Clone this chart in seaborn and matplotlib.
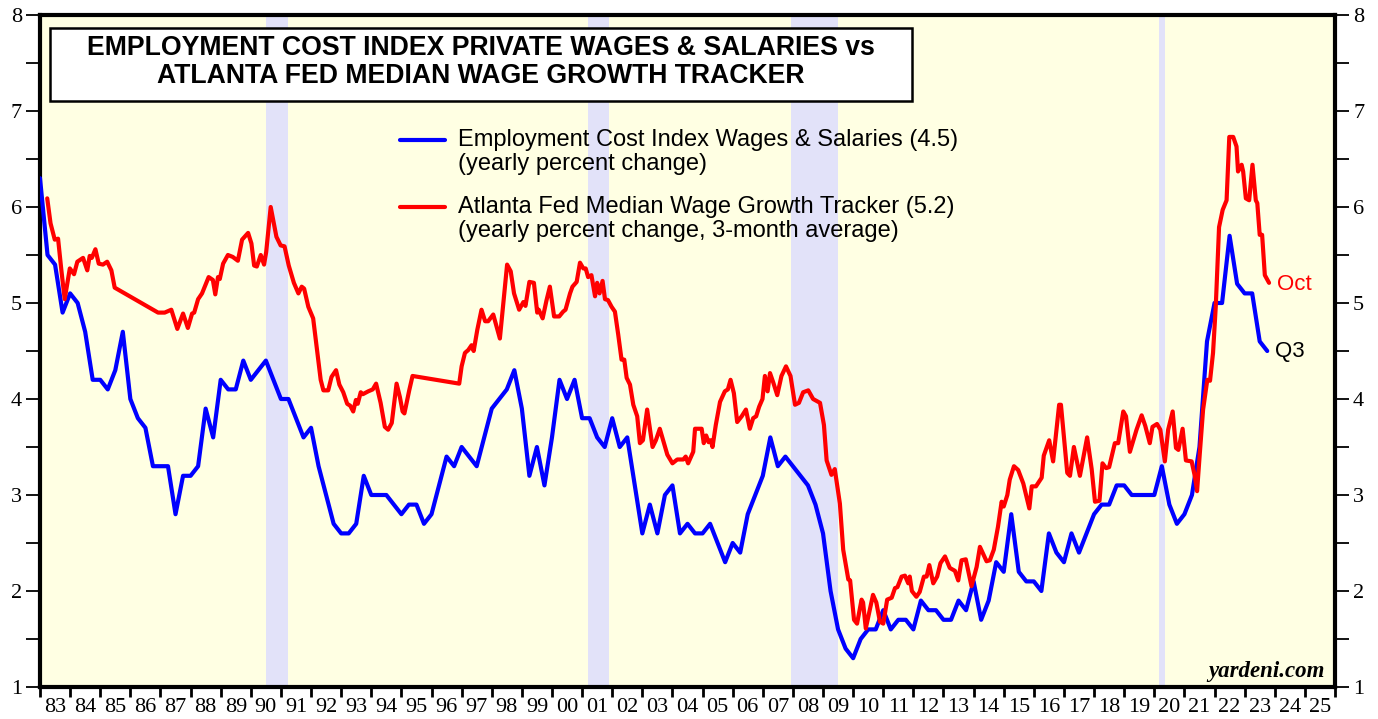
import numpy as np
import pandas as pd
import matplotlib
matplotlib.use("Agg")
import matplotlib.pyplot as plt
import seaborn as sns
from matplotlib.patches import Rectangle

W, H = 1378, 719

# ECI private wages & salaries, yearly % change, quarterly (plotted at quarter end, 1982Q4 .. 2023Q3)
eci_start = 1983.0
eci_values = [
    6.3, 5.5, 5.4, 4.9,   5.1, 5.0, 4.7, 4.2,   4.2, 4.1, 4.3, 4.7,   4.0, 3.8, 3.7, 3.3,
    3.3, 3.3, 2.8, 3.2,   3.2, 3.3, 3.9, 3.6,   4.2, 4.1, 4.1, 4.4,   4.2, 4.3, 4.4, 4.2,
    4.0, 4.0, 3.8, 3.6,   3.7, 3.3, 3.0, 2.7,   2.6, 2.6, 2.7, 3.2,   3.0, 3.0, 3.0, 2.9,
    2.8, 2.9, 2.9, 2.7,   2.8, 3.1, 3.4, 3.3,   3.5, 3.4, 3.3, 3.6,   3.9, 4.0, 4.1, 4.3,
    3.9, 3.2, 3.5, 3.1,   3.6, 4.2, 4.0, 4.2,   3.8, 3.8, 3.6, 3.5,   3.8, 3.5, 3.6, 3.1,
    2.6, 2.9, 2.6, 3.0,   3.1, 2.6, 2.7, 2.6,   2.6, 2.7, 2.5, 2.3,   2.5, 2.4, 2.8, 3.0,
    3.2, 3.6, 3.3, 3.4,   3.3, 3.2, 3.1, 2.9,   2.6, 2.0, 1.6, 1.4,   1.3, 1.5, 1.6, 1.6,
    1.8, 1.6, 1.7, 1.7,   1.6, 1.9, 1.8, 1.8,   1.7, 1.7, 1.9, 1.8,   2.1, 1.7, 1.9, 2.3,
    2.2, 2.8, 2.2, 2.1,   2.1, 2.0, 2.6, 2.4,   2.3, 2.6, 2.4, 2.6,   2.8, 2.9, 2.9, 3.1,
    3.1, 3.0, 3.0, 3.0,   3.0, 3.3, 2.9, 2.7,   2.8, 3.0, 3.5, 4.6,   5.0, 5.0, 5.7, 5.2,
    5.1, 5.1, 4.6, 4.5,
]
eci_dates = eci_start + 0.25 * np.arange(len(eci_values))

# Atlanta Fed median wage growth tracker, 3-month average (gaps are joined by straight lines)
atl_dates = [
    1983.24, 1983.35, 1983.49, 1983.60, 1983.71, 1983.82, 1983.99, 1984.13, 1984.24, 1984.43,
    1984.57, 1984.65, 1984.72, 1984.84, 1984.95, 1985.09, 1985.23, 1985.37, 1985.48,
    1986.92, 1987.14, 1987.36, 1987.56, 1987.75, 1987.91, 1988.05, 1988.12, 1988.25, 1988.38,
    1988.60, 1988.74, 1988.82, 1988.91, 1988.97, 1989.08, 1989.24, 1989.40, 1989.57, 1989.71,
    1989.91, 1990.02, 1990.11, 1990.20, 1990.33, 1990.44, 1990.51, 1990.66, 1990.85, 1990.99,
    1991.12, 1991.26, 1991.43, 1991.58, 1991.69, 1991.77, 1991.91, 1992.07, 1992.20, 1992.32,
    1992.41, 1992.57, 1992.68, 1992.83, 1992.94, 1993.07, 1993.20, 1993.30, 1993.40, 1993.49,
    1993.55, 1993.65, 1993.72, 1993.90, 1994.05, 1994.16, 1994.31, 1994.45, 1994.56, 1994.68,
    1994.84, 1994.95, 1995.04, 1995.10, 1995.26, 1995.37,
    1996.92, 1997.00, 1997.11, 1997.22, 1997.33, 1997.40, 1997.52, 1997.66, 1997.78, 1997.88,
    1998.05, 1998.27, 1998.51, 1998.63, 1998.74, 1998.91, 1999.05, 1999.12, 1999.25, 1999.40,
    1999.51, 1999.56, 1999.69, 1999.82, 1999.93, 2000.07, 2000.24, 2000.37, 2000.45, 2000.60,
    2000.68, 2000.82, 2000.93, 2001.04, 2001.12, 2001.20, 2001.31, 2001.43, 2001.50, 2001.58,
    2001.68, 2001.76, 2001.86, 2001.98, 2002.09, 2002.20, 2002.31, 2002.40, 2002.48, 2002.59,
    2002.70, 2002.83, 2002.92, 2003.02, 2003.16, 2003.34, 2003.45, 2003.58, 2003.72, 2003.83,
    2004.00, 2004.16, 2004.36, 2004.44, 2004.52, 2004.69, 2004.75, 2004.90, 2004.97, 2005.04,
    2005.12, 2005.20, 2005.27, 2005.33, 2005.44, 2005.58, 2005.74, 2005.84, 2005.93, 2006.04,
    2006.15, 2006.30, 2006.44, 2006.57, 2006.68, 2006.78, 2006.88, 2006.99, 2007.07, 2007.16,
    2007.24, 2007.35, 2007.48, 2007.62, 2007.77, 2007.92, 2008.07, 2008.20, 2008.34, 2008.51,
    2008.67, 2008.90, 2009.03, 2009.12, 2009.28, 2009.39, 2009.56, 2009.67, 2009.84, 2009.90,
    2010.03, 2010.13, 2010.28, 2010.33, 2010.42, 2010.53, 2010.66, 2010.77, 2010.89, 2011.00,
    2011.13, 2011.28, 2011.39, 2011.47, 2011.61, 2011.72, 2011.83, 2011.88, 2011.95, 2012.10,
    2012.21, 2012.35, 2012.44, 2012.53, 2012.66, 2012.79, 2012.90, 2013.05, 2013.21, 2013.38,
    2013.49, 2013.60, 2013.74, 2013.93, 2014.10, 2014.21, 2014.43, 2014.54, 2014.67, 2014.81,
    2014.93, 2015.00, 2015.12, 2015.20, 2015.34, 2015.48, 2015.65, 2015.85, 2015.93, 2016.07,
    2016.26, 2016.33, 2016.51, 2016.64, 2016.84, 2016.90, 2017.11, 2017.20, 2017.33, 2017.53,
    2017.77, 2017.92, 2018.03, 2018.18, 2018.28, 2018.40, 2018.50, 2018.69, 2018.80, 2018.97,
    2019.06, 2019.19, 2019.41, 2019.58, 2019.70, 2019.85, 2019.94, 2020.09, 2020.20, 2020.35,
    2020.46, 2020.61, 2020.72, 2020.80, 2020.94, 2021.05, 2021.24, 2021.35, 2021.42, 2021.51,
    2021.62, 2021.76, 2021.85, 2021.95, 2022.04, 2022.15, 2022.27, 2022.40, 2022.49, 2022.62,
    2022.73, 2022.78, 2022.90, 2022.95, 2023.04, 2023.15, 2023.26, 2023.37, 2023.42, 2023.50,
    2023.58, 2023.67, 2023.81,
]
atl_values = [
    6.09, 5.83, 5.66, 5.67, 5.34, 5.04, 5.36, 5.30, 5.43, 5.47,
    5.34, 5.49, 5.47, 5.56, 5.41, 5.40, 5.43, 5.34, 5.16,
    4.90, 4.90, 4.93, 4.73, 4.89, 4.74, 4.89, 4.90, 5.04, 5.10,
    5.27, 5.24, 5.09, 5.27, 5.25, 5.41, 5.50, 5.48, 5.44, 5.66,
    5.73, 5.62, 5.39, 5.38, 5.50, 5.40, 5.53, 6.00, 5.69, 5.60,
    5.59, 5.39, 5.21, 5.10, 5.17, 5.15, 4.96, 4.84, 4.51, 4.20,
    4.09, 4.09, 4.23, 4.30, 4.15, 4.07, 3.95, 3.93, 3.87, 3.99,
    3.95, 4.07, 4.05, 4.08, 4.10, 4.16, 3.96, 3.71, 3.68, 3.75,
    4.16, 4.02, 3.87, 3.85, 4.09, 4.24,
    4.16, 4.34, 4.48, 4.51, 4.56, 4.50, 4.72, 4.93, 4.81, 4.81,
    4.88, 4.63, 5.40, 5.33, 5.10, 4.93, 5.01, 4.97, 5.22, 5.21,
    4.90, 4.93, 4.84, 5.03, 5.17, 4.86, 4.86, 4.91, 4.93, 5.10,
    5.17, 5.22, 5.42, 5.36, 5.36, 5.27, 5.29, 5.07, 5.21, 5.10,
    5.23, 5.04, 5.03, 4.96, 4.91, 4.67, 4.41, 4.41, 4.22, 4.15,
    3.94, 3.82, 3.54, 3.57, 3.89, 3.50, 3.57, 3.69, 3.54, 3.42,
    3.33, 3.37, 3.37, 3.40, 3.33, 3.45, 3.69, 3.69, 3.69, 3.54,
    3.62, 3.55, 3.57, 3.50, 3.73, 3.97, 4.08, 4.10, 4.20, 4.06,
    3.76, 3.82, 3.89, 3.69, 3.80, 3.82, 3.92, 4.00, 4.24, 4.08,
    4.27, 4.17, 4.04, 4.24, 4.34, 4.24, 3.94, 3.96, 4.07, 4.09,
    4.00, 3.96, 3.73, 3.36, 3.21, 3.27, 2.91, 2.43, 2.12, 2.11,
    1.70, 1.66, 1.91, 1.88, 1.61, 1.77, 1.96, 1.88, 1.68, 1.66,
    1.91, 1.93, 2.03, 2.04, 2.15, 2.16, 2.08, 2.15, 2.00, 1.94,
    1.99, 2.15, 2.15, 2.27, 2.08, 2.15, 2.29, 2.36, 2.24, 2.21,
    2.11, 2.32, 2.33, 2.05, 2.25, 2.46, 2.31, 2.32, 2.43, 2.67,
    2.93, 2.88, 3.00, 3.16, 3.30, 3.26, 3.12, 2.86, 3.09, 3.09,
    3.18, 3.41, 3.57, 3.35, 3.94, 3.94, 3.23, 3.20, 3.50, 3.20,
    3.60, 3.27, 2.93, 2.94, 3.33, 3.28, 3.29, 3.54, 3.54, 3.87,
    3.82, 3.45, 3.68, 3.83, 3.72, 3.54, 3.71, 3.74, 3.68, 3.35,
    3.68, 3.87, 3.49, 3.47, 3.69, 3.36, 3.35, 3.19, 3.04, 3.43,
    3.89, 4.20, 4.19, 4.48, 4.96, 5.79, 5.97, 6.07, 6.73, 6.73,
    6.63, 6.37, 6.44, 6.37, 6.09, 6.07, 6.44, 6.07, 6.04, 5.71,
    5.71, 5.29, 5.21,
]

recessions = [(1990.5, 1991.25), (2001.2, 2001.9), (2007.95, 2009.5), (2020.15, 2020.35)]
years = list(range(1983, 2026))

title = ("EMPLOYMENT COST INDEX PRIVATE WAGES & SALARIES vs\n"
         "ATLANTA FED MEDIAN WAGE GROWTH TRACKER")


def fx(x):
    return x / W


def fy(y):
    return 1 - y / H


sns.set_style("ticks")
plt.rcParams["font.family"] = ["Liberation Sans", "DejaVu Sans"]
plt.rcParams["text.color"] = "black"
plt.rcParams["xtick.color"] = "black"
plt.rcParams["ytick.color"] = "black"

fig = plt.figure(figsize=(W / 100, H / 100), dpi=100)
ax = fig.add_axes([fx(40), fy(687), (1335 - 40) / W, (687 - 15) / H])
ax.set_facecolor("#ffffe3")

for a, b in recessions:
    ax.axvspan(a, b, color="#e2e2f9", lw=0, zorder=0)

eci = pd.DataFrame({"date": eci_dates, "value": eci_values})
atl = pd.DataFrame({"date": atl_dates, "value": atl_values})
sns.lineplot(data=eci, x="date", y="value", color="#0000ff", lw=3.0, ax=ax, zorder=3)
sns.lineplot(data=atl, x="date", y="value", color="#ff0000", lw=3.0, ax=ax, zorder=3)

ax.set_xlim(1983, 2026)
ax.set_ylim(1, 8)
ax.set_xlabel("")
ax.set_ylabel("")

ax.set_xticks(np.arange(1983, 2027))
ax.set_xticklabels([])
ax.set_xticks(np.array(years) + 0.5, minor=True)
ax.set_xticklabels([f"{y % 100:02d}" for y in years], minor=True)
ax.tick_params(axis="x", which="major", length=7, width=2, direction="out")
ax.tick_params(axis="x", which="minor", length=0, labelsize=16, pad=8,
               labelfontfamily="Liberation Serif")

ax.set_yticks(range(1, 9))
ax.set_yticks(np.arange(1.5, 8, 1), minor=True)
ax.tick_params(axis="y", which="both", left=True, right=True, labelleft=True,
               labelright=True, length=10, width=1.3, direction="out",
               labelsize=16, labelfontfamily="Liberation Serif", pad=3)

for sp in ax.spines.values():
    sp.set_linewidth(3)
    sp.set_color("black")

# title box
fig.patches.append(Rectangle((fx(50), fy(101)), (912 - 50) / W, (101 - 28) / H,
                             transform=fig.transFigure, facecolor="white",
                             edgecolor="black", lw=1.8, zorder=5))
fig.text(fx(481), fy(62), title, ha="center", va="center", fontsize=19.2,
         fontweight="bold", linespacing=1.12, zorder=6)

# legend
fig.add_artist(plt.Line2D([fx(400), fx(445)], [fy(140), fy(140)], color="#0000ff",
                          lw=3.0, transform=fig.transFigure))
fig.text(fx(458), fy(140), "Employment Cost Index Wages & Salaries (4.5)",
         fontsize=17, va="center")
fig.text(fx(458), fy(164), "(yearly percent change)", fontsize=17, va="center")
fig.add_artist(plt.Line2D([fx(400), fx(445)], [fy(207), fy(207)], color="#ff0000",
                          lw=3.0, transform=fig.transFigure))
fig.text(fx(458), fy(207), "Atlanta Fed Median Wage Growth Tracker (5.2)",
         fontsize=17, va="center")
fig.text(fx(458), fy(231), "(yearly percent change, 3-month average)",
         fontsize=17, va="center")

fig.text(fx(1277), fy(285), "Oct", color="#ff0000", fontsize=16, va="center")
fig.text(fx(1275), fy(352), "Q3", color="black", fontsize=16, va="center")

fig.text(fx(1325), fy(672), "yardeni.com", ha="right", va="center", fontsize=16.5,
         fontweight="bold", fontstyle="italic", family="Liberation Serif")

fig.savefig("out.png", dpi=100)
